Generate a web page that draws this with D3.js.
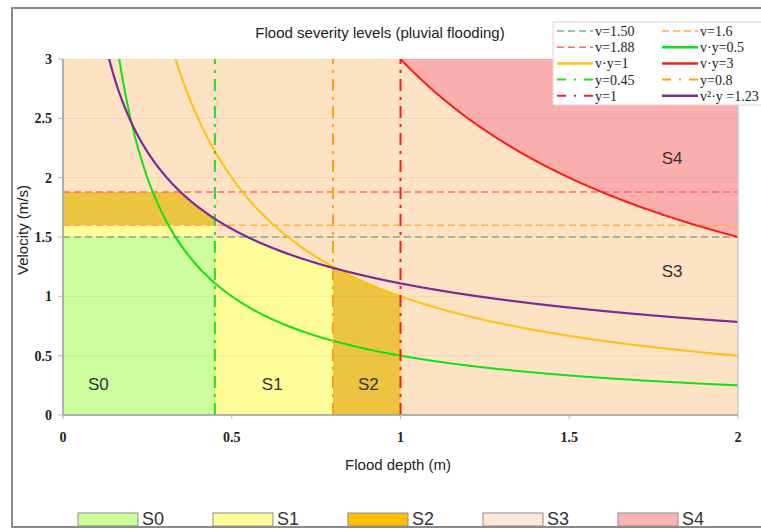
<!DOCTYPE html>
<meta charset="utf-8">
<style>
  body { margin: 0; background: #fff; }
  .tick-label { font-family: "Liberation Serif", serif; font-weight: bold; font-size: 14px; fill: #222; }
  .axis-title { font-family: "Liberation Sans", Arial, sans-serif; font-size: 15px; fill: #222; }
  .legend-text { font-family: "Liberation Serif", serif; font-size: 14px; fill: #222; }
</style>
<body>
<script src="https://d3js.org/d3.v7.min.js"></script>
<script>

// ---- data ----
var depthTicks = [0, 0.5, 1, 1.5, 2];
var velocityTicks = [0, 0.5, 1, 1.5, 2, 2.5, 3];

// horizontal velocity thresholds
var velLabels = ["v=1.50", "v=1.88", "v=1.6"];
var velValues = [1.5, 1.88, 1.6];

// vertical depth thresholds
var depthLabels = ["y=0.45", "y=0.8", "y=1"];
var depthValues = [0.45, 0.8, 1];

// hyperbolas v*y = c
var productLabels = ["v·y=0.5", "v·y=1", "v·y=3"];
var productValues = [0.5, 1, 3];

// v^2*y = c
var energyLabel = "v²·y =1.23";
var energyValue = 1.23;

var classNames = ["S0", "S1", "S2", "S3", "S4"];

// ---- layout ----
var W = 761, H = 529;
var x = d3.scaleLinear().domain([0, 2]).range([63, 738]);
var y = d3.scaleLinear().domain([0, 3]).range([415, 59]);

var svg = d3.select("body").append("svg")
  .attr("width", W).attr("height", H);

// outer frame
svg.append("rect")
  .attr("x", 12).attr("y", 8).attr("width", 800).attr("height", 519)
  .attr("fill", "#fff").attr("stroke", "#8a8a8a").attr("stroke-width", 2);

svg.append("defs").append("clipPath").attr("id", "plotclip")
  .append("rect")
  .attr("x", x(0)).attr("y", y(3))
  .attr("width", x(2) - x(0)).attr("height", y(0) - y(3));

var plot = svg.append("g").attr("clip-path", "url(#plotclip)");

// zone colours
var zoneFill = { S0: "#ccfd9c", S1: "#fffd99", S2: "#edc440", S3: "#fde2c3", S4: "#fbaeae" };
var swatchFill = { S0: "#ccff99", S1: "#ffff99", S2: "#ffc000", S3: "#fde9d9", S4: "#ffb3b3" };

function energyV(d) { return Math.sqrt(energyValue / d); }

var area = d3.area()
  .x(function(d) { return x(d.x); })
  .y0(function(d) { return y(d.lo); })
  .y1(function(d) { return y(d.hi); });

function span(a, b) {
  var s = d3.range(a, b, 0.002);
  s.push(b);
  return s;
}

// S3 background
plot.append("rect")
  .attr("x", x(0)).attr("y", y(3))
  .attr("width", x(2) - x(0)).attr("height", y(0) - y(3))
  .attr("fill", zoneFill.S3);

// S4: above v*y=3
plot.append("path")
  .attr("d", area(span(depthValues[2], 2).map(function(d) {
    return { x: d, lo: productValues[2] / d, hi: 3 };
  })))
  .attr("fill", zoneFill.S4);

// S0
plot.append("path")
  .attr("d", area([{ x: 0, lo: 0, hi: velValues[0] }, { x: depthValues[0], lo: 0, hi: velValues[0] }]))
  .attr("fill", zoneFill.S0);

// S1
plot.append("path")
  .attr("d", area([{ x: 0, lo: velValues[0], hi: velValues[2] }, { x: depthValues[0], lo: velValues[0], hi: velValues[2] }]))
  .attr("fill", zoneFill.S1);
plot.append("path")
  .attr("d", area(span(depthValues[0], depthValues[1]).map(function(d) {
    return { x: d, lo: 0, hi: Math.min(velValues[0], energyV(d)) };
  })))
  .attr("fill", zoneFill.S1);

// S2
plot.append("path")
  .attr("d", area(span(0.001, depthValues[0]).map(function(d) {
    return { x: d, lo: velValues[2], hi: Math.min(velValues[1], energyV(d)) };
  })))
  .attr("fill", zoneFill.S2);
plot.append("path")
  .attr("d", area(span(depthValues[1], depthValues[2]).map(function(d) {
    return { x: d, lo: 0, hi: Math.min(productValues[1] / d, energyV(d)) };
  })))
  .attr("fill", zoneFill.S2);

// faint gridlines
plot.selectAll(".grid").data(velocityTicks.slice(1)).enter().append("line")
  .attr("x1", x(0)).attr("x2", x(2))
  .attr("y1", function(d) { return y(d); }).attr("y2", function(d) { return y(d); })
  .attr("stroke", "#000").attr("stroke-opacity", 0.06);

// zone labels
var zoneLabelPos = [[0.105, 0.25], [0.62, 0.25], [0.905, 0.25], [1.805, 1.2], [1.805, 2.15]];
plot.selectAll(".zlabel").data(classNames).enter().append("text")
  .attr("x", function(d, i) { return x(zoneLabelPos[i][0]); })
  .attr("y", function(d, i) { return y(zoneLabelPos[i][1]); })
  .attr("text-anchor", "middle").attr("dominant-baseline", "middle")
  .style("font-family", "Liberation Sans, Arial, sans-serif")
  .style("font-size", "17px").style("fill", "#333")
  .text(function(d) { return d; });

// line styles
var velColors = ["#7faf8c", "#ff6a6a", "#ffb04a"];
var depthColors = ["#22dd22", "#ff9f1a", "#ff1a1a"];
var productColors = ["#11e011", "#ffc20e", "#ff1a1a"];
var energyColor = "#7b2a9a";
var dashed = "7,4";
var dashDot = "12,6,3,6";

// horizontal dashed thresholds
plot.selectAll(".hline").data(velValues).enter().append("line")
  .attr("x1", x(0)).attr("x2", x(2))
  .attr("y1", function(d) { return y(d); }).attr("y2", function(d) { return y(d); })
  .attr("stroke", function(d, i) { return velColors[i]; })
  .attr("stroke-width", 1.5).attr("stroke-dasharray", dashed);

// curves
var line = d3.line().x(function(d) { return x(d[0]); }).y(function(d) { return y(d[1]); });

plot.selectAll(".hyp").data(productValues).enter().append("path")
  .attr("d", function(c) {
    return line(span(c / 3.2, 2).map(function(d) { return [d, c / d]; }));
  })
  .attr("fill", "none")
  .attr("stroke", function(d, i) { return productColors[i]; })
  .attr("stroke-width", 2);

// vertical dash-dot thresholds
plot.selectAll(".vline").data(depthValues).enter().append("line")
  .attr("x1", function(d) { return x(d); }).attr("x2", function(d) { return x(d); })
  .attr("y1", y(0)).attr("y2", y(3))
  .attr("stroke", function(d, i) { return depthColors[i]; })
  .attr("stroke-width", 2).attr("stroke-dasharray", dashDot);

plot.append("path")
  .attr("d", line(span(energyValue / 10, 2).map(function(d) { return [d, energyV(d)]; })))
  .attr("fill", "none").attr("stroke", energyColor).attr("stroke-width", 2.2);

// axes lines
svg.append("line").attr("x1", x(0)).attr("x2", x(0)).attr("y1", y(3)).attr("y2", y(0))
  .attr("stroke", "#9a9a9a").attr("stroke-width", 1.5);
svg.append("line").attr("x1", x(0)).attr("x2", x(2)).attr("y1", y(0)).attr("y2", y(0))
  .attr("stroke", "#9a9a9a").attr("stroke-width", 1.5);
svg.append("line").attr("x1", x(2)).attr("x2", x(2)).attr("y1", y(3)).attr("y2", y(0))
  .attr("stroke", "#c8c8c8").attr("stroke-width", 1.5);

// ticks + labels
svg.selectAll(".ytick").data(velocityTicks).enter().append("line")
  .attr("x1", x(0) - 5).attr("x2", x(0))
  .attr("y1", function(d) { return y(d); }).attr("y2", function(d) { return y(d); })
  .attr("stroke", "#bbb");
svg.selectAll(".ylab").data(velocityTicks).enter().append("text")
  .attr("class", "tick-label")
  .attr("x", 52).attr("y", function(d) { return y(d) + 5; })
  .attr("text-anchor", "end")
  .text(function(d) { return d; });

svg.selectAll(".xtick").data(depthTicks).enter().append("line")
  .attr("y1", y(0)).attr("y2", y(0) + 4)
  .attr("x1", function(d) { return x(d); }).attr("x2", function(d) { return x(d); })
  .attr("stroke", "#bbb");
svg.selectAll(".xlab").data(depthTicks).enter().append("text")
  .attr("class", "tick-label")
  .attr("x", function(d) { return x(d); }).attr("y", 442)
  .attr("text-anchor", "middle")
  .text(function(d) { return d; });

// titles
svg.append("text").attr("class", "axis-title")
  .attr("x", 380).attr("y", 38).attr("text-anchor", "middle")
  .text("Flood severity levels (pluvial flooding)");
svg.append("text").attr("class", "axis-title")
  .attr("x", 398).attr("y", 470).attr("text-anchor", "middle")
  .text("Flood depth (m)");
svg.append("text").attr("class", "axis-title")
  .attr("transform", "translate(28,230) rotate(-90)")
  .attr("text-anchor", "middle")
  .text("Velocity (m/s)");

// line legend
var legendItems = [
  { label: velLabels[0], color: velColors[0], dash: dashed, w: 1.5 },
  { label: velLabels[2], color: velColors[2], dash: dashed, w: 1.5 },
  { label: velLabels[1], color: velColors[1], dash: dashed, w: 1.5 },
  { label: productLabels[0], color: productColors[0], dash: null, w: 2.5 },
  { label: productLabels[1], color: productColors[1], dash: null, w: 2.5 },
  { label: productLabels[2], color: productColors[2], dash: null, w: 2.5 },
  { label: depthLabels[0], color: depthColors[0], dash: "9,8,2,8", w: 2 },
  { label: depthLabels[1], color: depthColors[1], dash: "9,8,2,8", w: 2 },
  { label: depthLabels[2], color: depthColors[2], dash: "9,8,2,8", w: 2 },
  { label: energyLabel, color: energyColor, dash: null, w: 2.5 }
];

var lg = svg.append("g");
lg.append("rect").attr("x", 553).attr("y", 22).attr("width", 230).attr("height", 83)
  .attr("fill", "#fff").attr("stroke", "#d8d8d8");

var item = lg.selectAll(".li").data(legendItems).enter().append("g")
  .attr("transform", function(d, i) {
    return "translate(" + (i % 2 === 0 ? 557 : 662) + "," + (31 + Math.floor(i / 2) * 16.2) + ")";
  });
item.append("line")
  .attr("x1", 0).attr("x2", 36).attr("y1", 0).attr("y2", 0)
  .attr("stroke", function(d) { return d.color; })
  .attr("stroke-width", function(d) { return d.w; })
  .attr("stroke-dasharray", function(d) { return d.dash; });
item.append("text").attr("class", "legend-text")
  .attr("x", 38).attr("y", 5)
  .text(function(d) { return d.label; });

// zone legend at bottom
var swatchX = [78, 213, 348, 483, 618];
var sw = svg.selectAll(".sw").data(classNames).enter().append("g")
  .attr("transform", function(d, i) { return "translate(" + swatchX[i] + ",513)"; });
sw.append("rect")
  .attr("width", 60).attr("height", 13)
  .attr("fill", function(d) { return swatchFill[d]; })
  .attr("stroke", "#8c8c8c").attr("stroke-width", 1);
sw.append("text")
  .attr("x", 64).attr("y", 11.5)
  .style("font-family", "Liberation Sans, Arial, sans-serif")
  .style("font-size", "18px").style("fill", "#333")
  .text(function(d) { return d; });

</script>
</body>
